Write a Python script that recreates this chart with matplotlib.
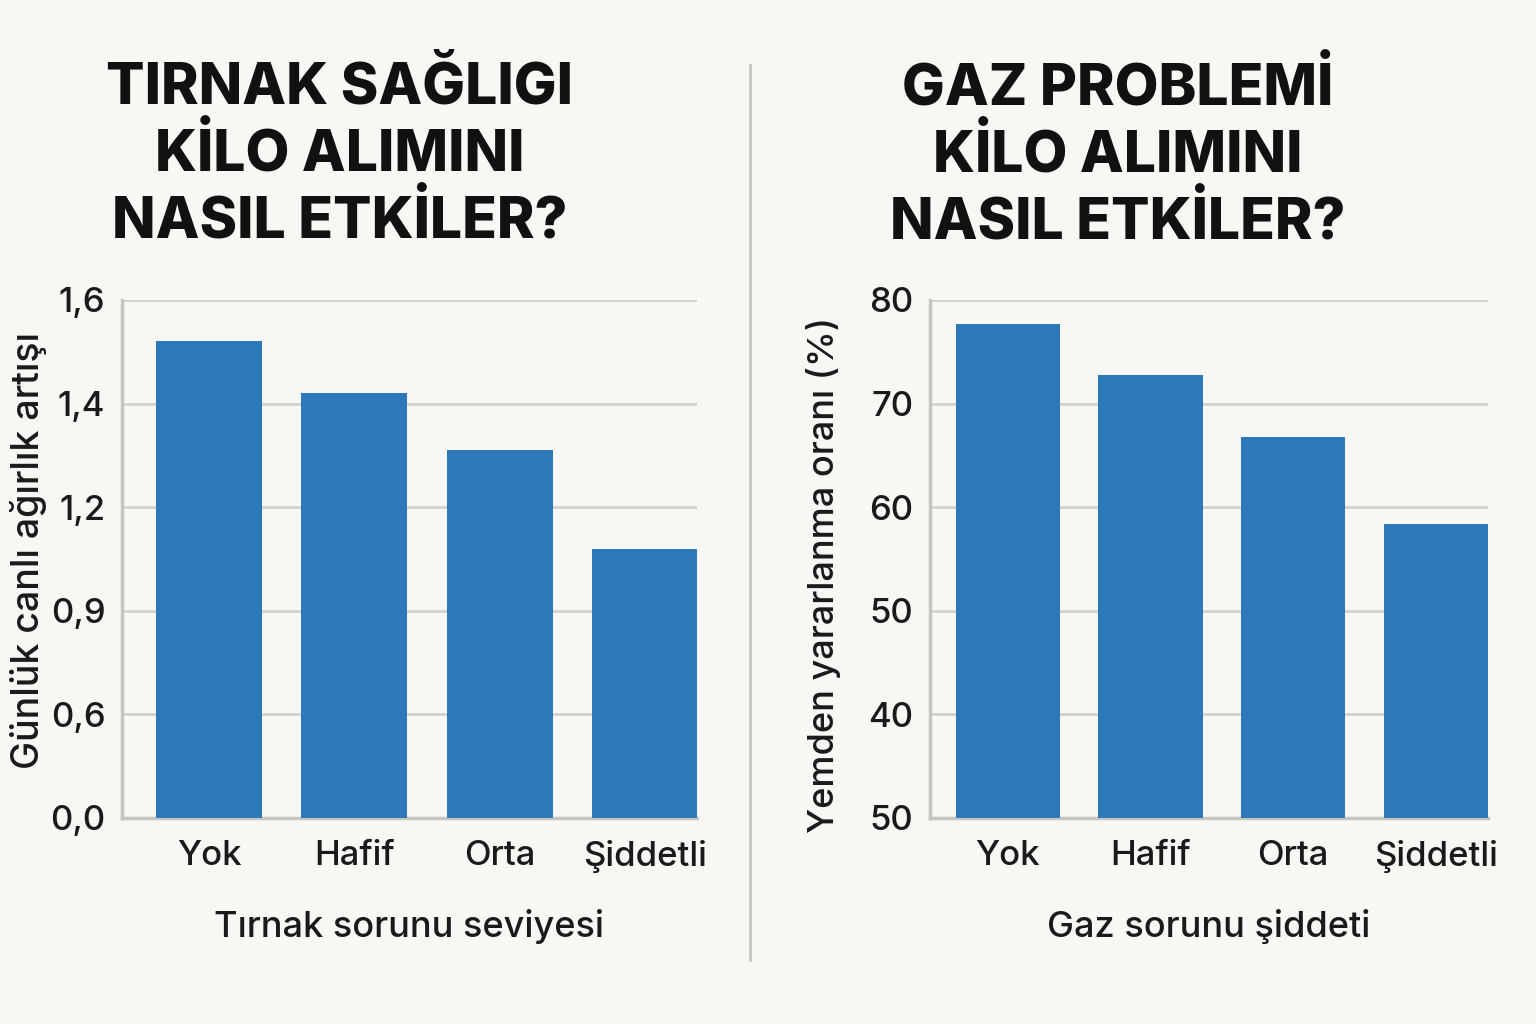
import numpy as np
import matplotlib.pyplot as plt

# data
categories = ["Yok", "Hafif", "Orta", "Şiddetli"]

left_title = "TIRNAK SAĞLIGI\nKİLO ALIMINI\nNASIL ETKİLER?"
left_xlabel = "Tırnak sorunu seviyesi"
left_ylabel = "Günlük canlı ağırlık artışı"
left_tick_values = [0.0, 0.6, 0.9, 1.2, 1.4, 1.6]
left_tick_labels = ["0,0", "0,6", "0,9", "1,2", "1,4", "1,6"]
left_values = [1.52, 1.42, 1.31, 1.08]

right_title = "GAZ PROBLEMİ\nKİLO ALIMINI\nNASIL ETKİLER?"
right_xlabel = "Gaz sorunu şiddeti"
right_ylabel = "Yemden yararlanma oranı (%)"
right_tick_values = [30, 40, 50, 60, 70, 80]
right_tick_labels = ["50", "40", "50", "60", "70", "80"]
right_values = [77.7, 72.8, 66.8, 58.4]

BG = "#f9f7f3"
BAR = "#2d78bb"
GRID = "#d3d1cc"
SPINE = "#c6c4bf"
FONT = "Inter"

plt.rcParams['font.family'] = [FONT, 'DejaVu Sans']

fig = plt.figure(figsize=(15.36, 10.24), dpi=100, facecolor=BG)
W, H = 1536, 1024


def box(x0, y0, x1, y1):
    return [x0 / W, 1 - y1 / H, (x1 - x0) / W, (y1 - y0) / H]


def draw(ax, values, tick_vals, tick_labels, xlabel, ylabel, xlim, piecewise,
         ylabel_pos, ylabel_size):
    ax.set_facecolor(BG)
    if piecewise:
        # uneven tick labels sit on evenly spaced gridlines
        idx = np.arange(len(tick_vals))
        heights = np.interp(values, tick_vals, idx)
        ticks = idx
        bottom = 0
        ax.set_ylim(0, len(tick_vals) - 1)
    else:
        heights = np.array(values) - tick_vals[0]
        ticks = tick_vals
        bottom = tick_vals[0]
        ax.set_ylim(tick_vals[0], tick_vals[-1])
    x = np.arange(len(categories))
    ax.bar(x, heights, bottom=bottom, width=0.73, color=BAR, zorder=3)
    ax.set_xlim(*xlim)
    ax.set_yticks(ticks)
    ax.set_yticklabels(tick_labels, fontsize=25, fontweight='medium')
    ax.set_xticks(x)
    ax.set_xticklabels(categories, fontsize=25, fontweight='medium')
    ax.tick_params(axis='both', length=0, colors="#1a1a1a")
    ax.tick_params(axis='y', pad=12)
    ax.tick_params(axis='x', pad=16)
    ax.yaxis.grid(True, color=GRID, linewidth=2, zorder=0)
    for s in ["top", "right"]:
        ax.spines[s].set_visible(False)
    for s in ["left", "bottom"]:
        ax.spines[s].set_color(SPINE)
        ax.spines[s].set_linewidth(2.5)
    ax.set_xlabel(xlabel, fontsize=26, fontweight='medium', labelpad=26,
                  color="#1a1a1a")
    ax.set_ylabel(ylabel, fontsize=ylabel_size, fontweight='medium',
                  color="#1a1a1a", va='center')
    ax.yaxis.set_label_coords(*ylabel_pos)


ax1 = fig.add_axes(box(122, 300, 697, 818))
draw(ax1, left_values, left_tick_values, left_tick_labels,
     left_xlabel, left_ylabel, (-0.6, 3.36), True, (-0.162, 0.517), 27)

ax2 = fig.add_axes(box(930, 300, 1488, 818))
draw(ax2, right_values, right_tick_values, right_tick_labels,
     right_xlabel, right_ylabel, (-0.545, 3.364), False, (-0.19, 0.47), 26)

fig.text(340 / W, 1 - 155 / H, left_title, ha='center', va='center',
         fontsize=41, fontweight='heavy', linespacing=1.24, color="#111111")
fig.text(1118 / W, 1 - 155 / H, right_title, ha='center', va='center',
         fontsize=41, fontweight='heavy', linespacing=1.24, color="#111111")

# divider between the two panels
fig.add_artist(plt.Line2D([750 / W, 750 / W], [1 - 65 / H, 1 - 960 / H],
                          color=SPINE, linewidth=2))

fig.savefig("out.png", dpi=100, facecolor=BG)
